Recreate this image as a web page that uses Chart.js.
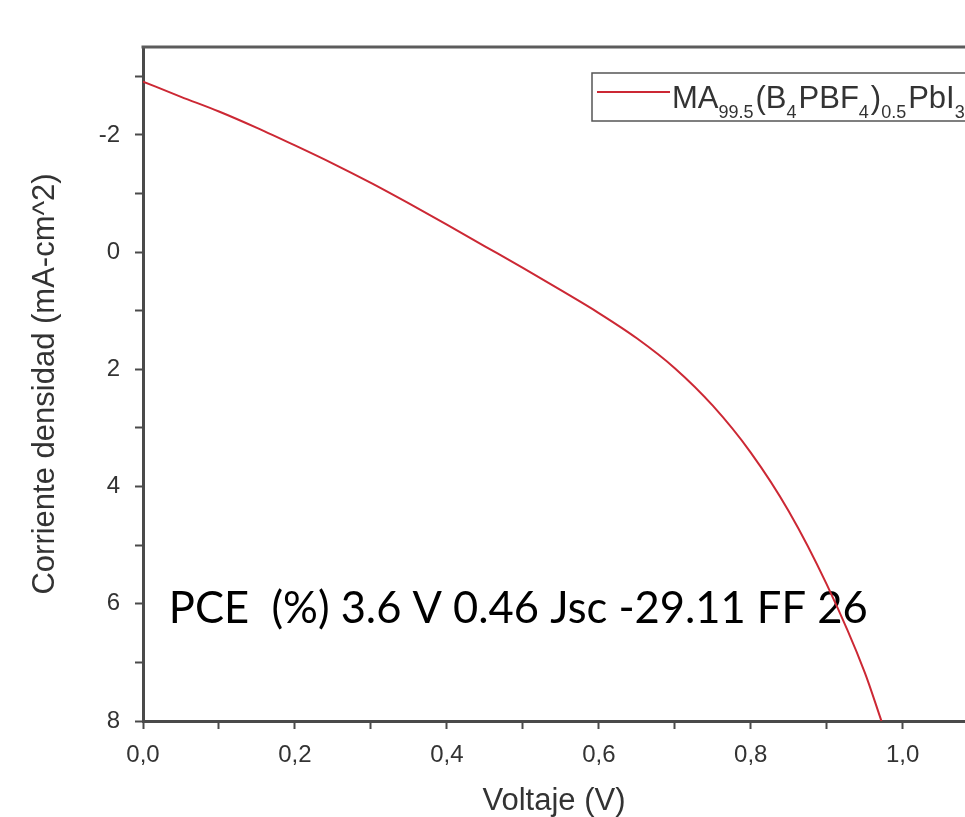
<!DOCTYPE html>
<html>
<head>
<meta charset="utf-8">
<title>Curva J-V</title>
<script src="https://cdn.jsdelivr.net/npm/chart.js@4.4.1/dist/chart.umd.min.js"></script>
<style>
  body { margin: 0; background: #fff; }
  canvas { display: block; }
</style>
</head>
<body>
<canvas id="jv" width="965" height="817"></canvas>
<script>
// curve (V, mA-cm^2)
var voltage = [0, 0.05, 0.1, 0.15, 0.2, 0.25, 0.3, 0.35, 0.4, 0.45, 0.5, 0.55, 0.6, 0.65, 0.7, 0.75, 0.8, 0.85, 0.9, 0.95, 0.972];
var current = [-2.91, -2.65, -2.40, -2.12, -1.82, -1.51, -1.18, -0.83, -0.47, -0.10, 0.27, 0.65, 1.04, 1.47, 1.98, 2.62, 3.42, 4.42, 5.67, 7.17, 8.0];

var xTicks = [0, 0.1, 0.2, 0.3, 0.4, 0.5, 0.6, 0.7, 0.8, 0.9, 1.0];
var xTickLabels = ['0,0', '', '0,2', '', '0,4', '', '0,6', '', '0,8', '', '1,0'];
var yTicks = [-3, -2, -1, 0, 1, 2, 3, 4, 5, 6, 7, 8];
var yTickLabels = ['', '-2', '', '0', '', '2', '', '4', '', '6', '', '8'];

var seriesName = 'MA99.5(B4PBF4)0.5PbI3';
// same name split into normal / subscript parts
var seriesNameParts = [['MA', 0], ['99.5', 1], ['(B', 0], ['4', 1], ['PBF', 0], ['4', 1], [')', 0], ['0.5', 1], ['PbI', 0], ['3', 1]];
var note = 'PCE  (%) 3.6 V 0.46 Jsc -29.11 FF 26';

var points = [];
for (var i = 0; i < voltage.length; i++) {
  points.push({x: voltage[i], y: current[i]});
}

var lineColor = 'rgb(204, 40, 52)';
var axisColor = '#4a4a4a';

var extras = {
  id: 'extras',
  beforeDatasetsDraw: function(chart) {
    var ctx = chart.ctx;
    var xs = chart.scales.x, ys = chart.scales.y;
    ctx.save();
    ctx.fillStyle = '#000';
    ctx.font = '43.5px Lato';
    ctx.textBaseline = 'alphabetic';
    ctx.textAlign = 'left';
    ctx.fillText(note, xs.getPixelForValue(0.034), ys.getPixelForValue(6.33));
    ctx.restore();
  },
  afterDraw: function(chart) {
    var ctx = chart.ctx, a = chart.chartArea;
    ctx.save();
    // top frame
    ctx.strokeStyle = '#5c5c5c';
    ctx.lineWidth = 3;
    ctx.beginPath();
    ctx.moveTo(a.left - 1.5, a.top);
    ctx.lineTo(a.right, a.top);
    ctx.stroke();

    // legend box, runs off the right edge like the original
    var bx = a.right - 373, by = a.top + 26, bh = 48;
    ctx.fillStyle = '#fff';
    ctx.fillRect(bx, by, 400, bh);
    ctx.strokeStyle = '#555';
    ctx.lineWidth = 1.5;
    ctx.strokeRect(bx, by, 400, bh);

    ctx.strokeStyle = lineColor;
    ctx.lineWidth = 2;
    ctx.beginPath();
    ctx.moveTo(bx + 5, by + 19);
    ctx.lineTo(bx + 78, by + 19);
    ctx.stroke();

    var tx = bx + 80, base = by + 35;
    ctx.fillStyle = '#333';
    ctx.textBaseline = 'alphabetic';
    ctx.textAlign = 'left';
    seriesNameParts.forEach(function(p) {
      ctx.font = p[1] ? '18px "Liberation Sans"' : '31px "Liberation Sans"';
      ctx.fillText(p[0], tx, p[1] ? base + 10 : base);
      tx += ctx.measureText(p[0]).width + (p[1] ? 2 : 0);
    });
    ctx.restore();
  }
};

var ctx = document.getElementById('jv').getContext('2d');
var chart = new Chart(ctx, {
  type: 'scatter',
  data: {
    datasets: [{
      label: seriesName,
      data: points,
      showLine: true,
      borderColor: lineColor,
      backgroundColor: lineColor,
      borderWidth: 2,
      pointRadius: 0,
      cubicInterpolationMode: 'monotone'
    }]
  },
  options: {
    responsive: false,
    animation: false,
    devicePixelRatio: 1,
    layout: { padding: { top: 47, right: 0, left: 0, bottom: 0 } },
    plugins: {
      legend: { display: false },
      tooltip: { enabled: false }
    },
    scales: {
      x: {
        type: 'linear',
        min: 0,
        max: 1.082,
        afterBuildTicks: function(scale) {
          scale.ticks = xTicks.map(function(v) { return {value: v}; });
        },
        afterFit: function(scale) { scale.height = 96; },
        grid: { drawOnChartArea: false, drawTicks: true, tickLength: 8, tickColor: axisColor, tickWidth: 2 },
        border: { display: true, color: axisColor, width: 3 },
        ticks: {
          autoSkip: false,
          maxRotation: 0,
          padding: 12,
          color: '#333',
          font: { family: '"Liberation Sans", Arial', size: 24 },
          callback: function(value, index) { return xTickLabels[index]; }
        },
        title: {
          display: true,
          text: 'Voltaje (V)',
          color: '#333',
          font: { family: '"Liberation Sans", Arial', size: 31, lineHeight: 1 },
          padding: { top: 0, bottom: 0 }
        }
      },
      y: {
        type: 'linear',
        reverse: true,
        min: -3.5,
        max: 8,
        afterBuildTicks: function(scale) {
          scale.ticks = yTicks.map(function(v) { return {value: v}; });
        },
        afterFit: function(scale) { scale.width = 143; },
        grid: { drawOnChartArea: false, drawTicks: true, tickLength: 8, tickColor: axisColor, tickWidth: 2 },
        border: { display: true, color: axisColor, width: 3 },
        ticks: {
          autoSkip: false,
          padding: 15,
          color: '#333',
          font: { family: '"Liberation Sans", Arial', size: 24 },
          callback: function(value, index) { return yTickLabels[index]; }
        },
        title: {
          display: true,
          text: 'Corriente densidad (mA-cm^2)',
          color: '#333',
          font: { family: '"Liberation Sans", Arial', size: 31, lineHeight: 1.2 },
          padding: { top: 27, bottom: 0 }
        }
      }
    }
  },
  plugins: [extras]
});
</script>
</body>
</html>
